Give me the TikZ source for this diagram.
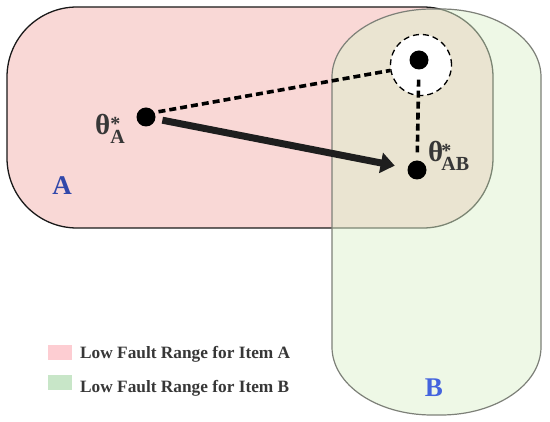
\documentclass[tikz,border=0pt]{standalone}
\usepackage{fontspec}
\setmainfont{Liberation Serif}
\usetikzlibrary{arrows.meta}
\definecolor{pinkA}{RGB}{249,216,214}
\definecolor{greenB}{RGB}{221,241,205}
\definecolor{borderB}{RGB}{125,128,120}
\definecolor{swA}{RGB}{253,205,210}
\definecolor{swB}{RGB}{200,230,200}
\definecolor{labA}{RGB}{50,72,170}
\definecolor{labB}{RGB}{68,100,222}
\definecolor{txt}{RGB}{55,55,55}
\newcommand{\thlab}[2]{{\fontsize{29}{29}\selectfont θ}\kern#2\rlap{\fontsize{20}{20}\selectfont\raisebox{4pt}{*}}{\fontsize{20}{20}\selectfont\raisebox{-9pt}{#1}}}
\tikzset{
  dot/.style={circle, fill=black, minimum size=19pt, inner sep=0pt},
  ring/.style={circle, minimum size=61pt, inner sep=0pt, fill=white, draw=black, line width=1.3pt, dash pattern=on 6pt off 4pt},
  dotline/.style={line width=3.6pt, dash pattern=on 7pt off 4pt, black},
  bigarrow/.style={line width=7pt, draw={rgb,255:red,30;green,30;blue,30}, -{Triangle[length=14pt,width=20pt]}},
  thlabel/.style={inner sep=0pt, text=txt, font=\bfseries},
  biglab/.style={inner sep=0pt, font=\bfseries\fontsize{27}{27}\selectfont},
  swatch/.style={minimum width=24pt, minimum height=15pt, inner sep=0pt},
  leg/.style={inner sep=0pt, text=txt, font=\bfseries\fontsize{17.3}{17.3}\selectfont}
}
\begin{document}
\begin{tikzpicture}[x=1pt,y=1pt]
\useasboundingbox (0,0) rectangle (550,-422);
% region A
\draw[fill=pinkA, draw={rgb,255:red,25;green,25;blue,25}, line width=1.3pt, rounded corners=70pt] (7,-7) rectangle (493,-228);
% region B
\path[fill=greenB, fill opacity=0.5] (332,-77) arc[start angle=180,end angle=90,x radius=100,y radius=68] -- (441,-9) arc[start angle=90,end angle=0,x radius=100,y radius=68] -- (541,-347) arc[start angle=0,end angle=-90,x radius=100,y radius=68] -- (432,-415) arc[start angle=-90,end angle=-180,x radius=100,y radius=68] -- cycle;
\draw[draw=borderB, line width=1.2pt] (332,-77) arc[start angle=180,end angle=90,x radius=100,y radius=68] -- (441,-9) arc[start angle=90,end angle=0,x radius=100,y radius=68] -- (541,-347) arc[start angle=0,end angle=-90,x radius=100,y radius=68] -- (432,-415) arc[start angle=-90,end angle=-180,x radius=100,y radius=68] -- cycle;
% points
\node[ring] (ring) at (421,-65) {};
\node[dot] (dA) at (146,-117) {};
\node[dot] (dC) at (419,-60) {};
\node[dot] (dAB) at (417,-170) {};
\draw[dotline, shorten <=4pt] (dA.28) -- (ring);
\draw[dotline, shorten <=10pt, shorten >=8pt] (dC) -- (dAB);
\draw[bigarrow, shorten <=7pt, shorten >=13pt] (dA) -- (dAB);
% labels
\node[thlabel, anchor=base west] (tA) at (95,-135) {\thlab{A}{0pt}};
\node[thlabel, anchor=base west] (tAB) at (428,-162) {\thlab{AB}{-2pt}};
\node[biglab, text=labA, anchor=base] (lA) at (62,-195) {A};
\node[biglab, text=labB, anchor=base] (lB) at (434,-397) {B};
% legend
\node[swatch, fill=swA] (s1) at (60,-352.5) {};
\node[swatch, fill=swB] (s2) at (60,-382.5) {};
\node[leg, anchor=base west] (l1) at (80,-359) {Low Fault Range for Item A};
\node[leg, anchor=base west] (l2) at (80,-393) {Low Fault Range for Item B};
\end{tikzpicture}
\end{document}
